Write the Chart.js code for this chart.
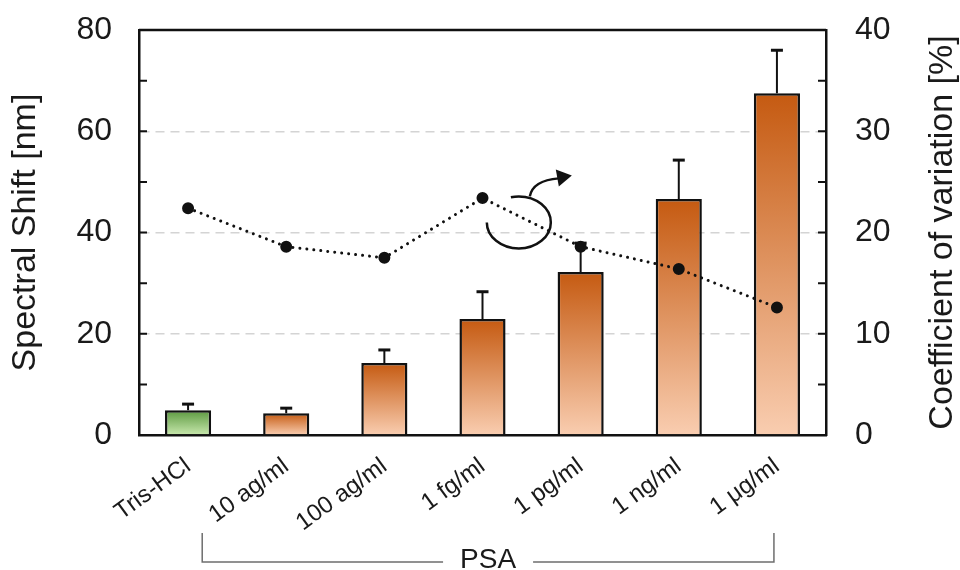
<!DOCTYPE html>
<html>
<head>
<meta charset="utf-8">
<script src="https://cdn.jsdelivr.net/npm/chart.js@4.4.1/dist/chart.umd.min.js"></script>
<style>
    html, body { margin: 0; padding: 0; background: #fff; }
    #wrap { width: 960px; height: 570px; }
</style>
</head>
<body>
<div id="wrap"><canvas id="psaChart" width="960" height="570"></canvas></div>
<script>
// --- data ---
const categories = ['Tris-HCl', '10 ag/ml', '100 ag/ml', '1 fg/ml', '1 pg/ml', '1 ng/ml', '1 μg/ml'];
const shiftNm = [4.9, 4.3, 14.2, 22.9, 32.2, 46.6, 67.5];
const shiftErr = [1.2, 1.0, 2.6, 5.4, 5.7, 7.7, 8.5];
const cvPercent = [22.4, 18.6, 17.5, 23.4, 18.6, 16.4, 12.6];
const shiftTicks = [0, 20, 40, 60, 80];
const cvTicks = [0, 10, 20, 30, 40];
const groupLabel = 'PSA';
const cvTitle = 'Coefficient of variation [%]';

const FONT = "'Liberation Sans', Arial, sans-serif";
const INK = '#1a1a1a';

// vertical gradient per bar, dark on top
function barFill(ctx) {
    const chart = ctx.chart;
    if (!chart.chartArea || ctx.type !== 'data') return '#e08a50';
    const y = chart.scales.y;
    const top = y.getPixelForValue(ctx.raw);
    const base = y.getPixelForValue(0);
    const stops = ctx.dataIndex === 0 ? ['#5b983f', '#c8e8ad'] : ['#c55a11', '#f9cdb0'];
    const g = chart.ctx.createLinearGradient(0, top, 0, base);
    g.addColorStop(0, stops[0]);
    g.addColorStop(1, stops[1]);
    return g;
}

// fixed box sizes for the value axes; labels may overhang the plot
const fitSide = width => s => {
    s.width = width;
    s.paddingTop = 0;
    s.paddingBottom = 0;
};

const extras = {
    id: 'extras',
    // error bars right after the bars so the line sits on top
    afterDatasetDraw(chart, args) {
        if (args.index !== 0) return;
        const c = chart.ctx;
        const y = chart.scales.y;
        c.save();
        c.strokeStyle = '#111';
        chart.getDatasetMeta(0).data.forEach((bar, i) => {
            const yTop = y.getPixelForValue(shiftNm[i] + shiftErr[i]);
            c.lineWidth = 2;
            c.beginPath();
            c.moveTo(bar.x, bar.y);
            c.lineTo(bar.x, yTop);
            c.stroke();
            c.lineWidth = 3;
            c.beginPath();
            c.moveTo(bar.x - 6, yTop);
            c.lineTo(bar.x + 6, yTop);
            c.stroke();
        });
        c.restore();
    },
    afterDraw(chart) {
        const c = chart.ctx;
        const { left, right, top, bottom } = chart.chartArea;
        const y = chart.scales.y, y2 = chart.scales.y2, x = chart.scales.x;
        c.save();
        c.strokeStyle = '#111';
        c.lineWidth = 2.5;
        // top frame
        c.beginPath();
        c.moveTo(left, top);
        c.lineTo(right, top);
        c.stroke();
        // inward tick marks
        c.lineWidth = 2;
        c.beginPath();
        for (let v = 0; v <= 80; v += 10) {
            const py = y.getPixelForValue(v);
            c.moveTo(left, py);
            c.lineTo(left + 8, py);
        }
        for (let v = 0; v <= 40; v += 5) {
            const py = y2.getPixelForValue(v);
            c.moveTo(right, py);
            c.lineTo(right - 8, py);
        }
        c.stroke();

        // right axis title, reading bottom to top like the left one
        c.fillStyle = INK;
        c.font = '34px ' + FONT;
        c.textAlign = 'center';
        c.textBaseline = 'middle';
        c.save();
        c.translate(right + 117, (top + bottom) / 2);
        c.rotate(-Math.PI / 2);
        c.fillText(cvTitle, 0, 0);
        c.restore();

        // bracket under the PSA concentrations
        const bx1 = x.getPixelForValue(1) - 84;
        const bx2 = x.getPixelForValue(6) - 3;
        const by1 = 533, by2 = 562;
        const mid = (bx1 + bx2) / 2;
        c.strokeStyle = '#6e6e6e';
        c.lineWidth = 1.5;
        c.beginPath();
        c.moveTo(bx1, by1); c.lineTo(bx1, by2); c.lineTo(mid - 45, by2);
        c.moveTo(mid + 45, by2); c.lineTo(bx2, by2); c.lineTo(bx2, by1);
        c.stroke();
        c.font = '28px ' + FONT;
        c.fillText(groupLabel, mid, by2 - 2);

        // rotation sign: points belong to the right axis
        const cx = x.getPixelForValue(3.37);
        const cy = y2.getPixelForValue(21);
        c.strokeStyle = '#111';
        c.lineWidth = 2.5;
        c.beginPath();
        c.ellipse(cx, cy, 32, 26, 0, Math.PI, -Math.PI / 2 - 0.25, true);
        c.stroke();
        c.beginPath();
        c.moveTo(cx + 11, cy - 26);
        c.quadraticCurveTo(cx + 14, cy - 42, cx + 40, cy - 44);
        c.stroke();
        c.fillStyle = '#111';
        c.beginPath();
        c.moveTo(cx + 53, cy - 47);
        c.lineTo(cx + 37, cy - 53);
        c.lineTo(cx + 40, cy - 36);
        c.closePath();
        c.fill();
        c.restore();
    }
};

new Chart(document.getElementById('psaChart'), {
    data: {
        labels: categories,
        datasets: [
            {
                type: 'bar',
                data: shiftNm,
                yAxisID: 'y',
                order: 2,
                backgroundColor: barFill,
                borderColor: '#111',
                borderWidth: 2.5,
                barPercentage: 0.47,
                categoryPercentage: 1
            },
            {
                type: 'line',
                data: cvPercent,
                yAxisID: 'y2',
                order: 1,
                borderColor: '#111',
                borderWidth: 3,
                borderDash: [0.01, 7],
                borderCapStyle: 'round',
                pointRadius: 4.5,
                pointBackgroundColor: '#111',
                pointBorderColor: '#111',
                tension: 0
            }
        ]
    },
    options: {
        responsive: false,
        animation: false,
        layout: { padding: { top: 30, left: 0, right: 0, bottom: 0 } },
        plugins: {
            legend: { display: false },
            tooltip: { enabled: false }
        },
        scales: {
            x: {
                offset: true,
                grid: { display: false, drawTicks: false },
                border: { color: '#111', width: 2.5 },
                ticks: {
                    minRotation: 36,
                    maxRotation: 36,
                    padding: 17,
                    color: INK,
                    font: { family: FONT, size: 24 }
                },
                afterFit: s => {
                    s.height = 135;
                    s.paddingLeft = 0;
                    s.paddingRight = 0;
                }
            },
            y: {
                position: 'left',
                min: 0,
                max: 80,
                afterBuildTicks: s => { s.ticks = shiftTicks.map(v => ({ value: v })); },
                grid: {
                    drawTicks: false,
                    lineWidth: 1.5,
                    color: c => [20, 40, 60].includes(c.tick.value) ? '#d4d4d4' : 'rgba(0,0,0,0)'
                },
                border: { color: '#111', width: 2.5, dash: [9, 6] },
                ticks: { padding: 27, color: INK, font: { family: FONT, size: 32 } },
                title: {
                    display: true,
                    text: 'Spectral Shift [nm]',
                    color: INK,
                    font: { family: FONT, size: 34 },
                    padding: { top: 5, bottom: 0 }
                },
                afterFit: fitSide(139)
            },
            y2: {
                position: 'right',
                min: 0,
                max: 40,
                afterBuildTicks: s => { s.ticks = cvTicks.map(v => ({ value: v })); },
                grid: { display: false, drawTicks: false },
                border: { color: '#111', width: 2.5 },
                ticks: { padding: 29, color: INK, font: { family: FONT, size: 32 } },
                afterFit: fitSide(134)
            }
        }
    },
    plugins: [extras]
});
</script>
</body>
</html>
